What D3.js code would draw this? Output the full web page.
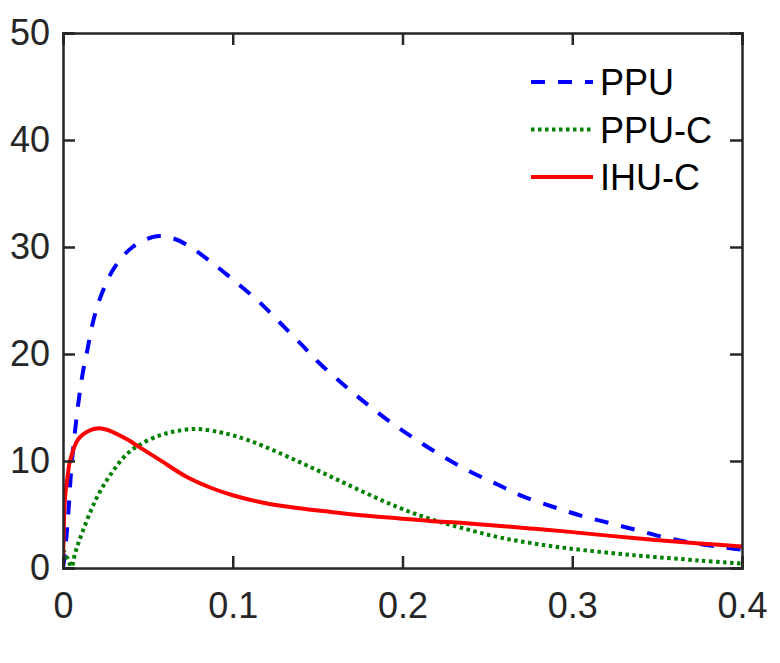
<!DOCTYPE html>
<html>
<head>
  <meta charset="utf-8">
  <title>PPU / PPU-C / IHU-C</title>
  <script src="https://d3js.org/d3.v7.min.js"></script>
  <style>
    body { margin: 0; background: #fff; }
    text { font-family: "Liberation Sans", Arial, Helvetica, sans-serif; }
  </style>
</head>
<body>
<div id="chart"></div>
<script>

const width = 780;
const height = 663;
const margin = {top: 33, right: 38, bottom: 95, left: 63};

// series, [x, y]
const ppu = [[0,0],[0.001,1.2],[0.003,4.8],[0.005,9.5],[0.0087,15.0],[0.0116,18.2],[0.014,20.1],
  [0.018,23.2],[0.023,25.7],[0.030,28.0],[0.041,30.0],[0.055,31.0],[0.065,30.8],[0.075,30.0],
  [0.088,28.5],[0.102,26.7],[0.116,24.8],[0.128,22.9],[0.141,20.8],[0.150,19.3],[0.167,16.9],
  [0.180,15.2],[0.194,13.5],[0.208,12.0],[0.224,10.4],[0.240,9.0],[0.256,7.8],[0.271,6.7],
  [0.289,5.7],[0.305,4.9],[0.322,4.2],[0.339,3.5],[0.356,2.8],[0.373,2.3],[0.391,1.9],[0.4,1.7]];

const ppuC = [[0,1.7],[0.003,0.8],[0.005,0.1],[0.007,1.3],[0.009,2.3],[0.012,3.6],[0.016,5.2],
  [0.020,6.6],[0.025,8.0],[0.031,9.4],[0.038,10.7],[0.045,11.5],[0.057,12.4],[0.067,12.8],
  [0.079,13.0],[0.092,12.7],[0.100,12.4],[0.108,12.0],[0.118,11.4],[0.138,10.0],[0.157,8.6],
  [0.177,7.1],[0.197,5.7],[0.216,4.6],[0.236,3.7],[0.256,2.9],[0.275,2.35],[0.297,1.85],
  [0.336,1.2],[0.375,0.7],[0.4,0.4]];

const ihuC = [[0,0],[0.0003,2.6],[0.0012,6.6],[0.003,8.9],[0.0041,10.0],[0.0088,12.0],[0.015,12.8],
  [0.021,13.05],[0.028,12.8],[0.038,12.0],[0.045,11.3],[0.057,10.1],[0.073,8.5],[0.087,7.5],
  [0.100,6.8],[0.118,6.1],[0.138,5.6],[0.157,5.25],[0.177,4.9],[0.197,4.65],[0.216,4.4],
  [0.236,4.2],[0.256,3.95],[0.275,3.7],[0.297,3.4],[0.336,2.8],[0.375,2.3],[0.4,2.0]];

const xTicks = [0, 0.1, 0.2, 0.3, 0.4];
const yTicks = [0, 10, 20, 30, 40, 50];
const names = ["PPU", "PPU-C", "IHU-C"];

const series = [
  {name: names[0], data: ppu, color: "#0000ff", dash: "14,13"},
  {name: names[1], data: ppuC, color: "#008000", dash: "3.5,3.5"},
  {name: names[2], data: ihuC, color: "#ff0000", dash: null}
];

const svg = d3.select("#chart").append("svg")
    .attr("width", width)
    .attr("height", height);

const x = d3.scaleLinear().domain([0, 0.4]).range([margin.left, width - margin.right]);
const y = d3.scaleLinear().domain([0, 50]).range([height - margin.bottom, margin.top]);

svg.append("clipPath").attr("id", "clip")
  .append("rect")
    .attr("x", x(0)).attr("y", y(50))
    .attr("width", x(0.4) - x(0)).attr("height", y(0) - y(50));

const line = d3.line()
    .x(d => x(d[0]))
    .y(d => y(d[1]))
    .curve(d3.curveCatmullRom.alpha(0.5));

svg.append("g")
    .attr("clip-path", "url(#clip)")
  .selectAll("path")
  .data(series)
  .join("path")
    .attr("fill", "none")
    .attr("stroke", d => d.color)
    .attr("stroke-width", 4)
    .attr("stroke-dasharray", d => d.dash)
    .attr("d", d => line(d.data));

// axes, matlab style: ticks inside, box on all sides
const axisColor = "#262626";
const fmt = d => d === 0 ? "0" : String(d);

const gx = svg.append("g")
    .attr("transform", `translate(0,${y(0)})`)
    .call(d3.axisBottom(x).tickValues(xTicks).tickSize(-12).tickPadding(24).tickFormat(fmt));
const gxTop = svg.append("g")
    .attr("transform", `translate(0,${y(50)})`)
    .call(d3.axisTop(x).tickValues(xTicks).tickSize(-12).tickFormat(""));
const gy = svg.append("g")
    .attr("transform", `translate(${x(0)},0)`)
    .call(d3.axisLeft(y).tickValues(yTicks).tickSize(-12).tickPadding(13).tickFormat(fmt));
const gyRight = svg.append("g")
    .attr("transform", `translate(${x(0.4)},0)`)
    .call(d3.axisRight(y).tickValues(yTicks).tickSize(-12).tickFormat(""));

[gx, gxTop, gy, gyRight].forEach(g => {
  g.select(".domain").attr("stroke", axisColor).attr("stroke-width", 2.5);
  g.selectAll(".tick line").attr("stroke", axisColor).attr("stroke-width", 2.5);
  g.selectAll(".tick text")
    .attr("fill", axisColor)
    .attr("font-size", 36)
    .style("font-family", "'Liberation Sans', Arial, sans-serif");
});

// legend
const legend = svg.append("g");
const rows = legend.selectAll("g")
  .data(series)
  .join("g")
    .attr("transform", (d, i) => `translate(531,${82 + i * 47.5})`);

rows.append("line")
    .attr("x1", 0).attr("x2", 62)
    .attr("stroke", d => d.color)
    .attr("stroke-width", 4)
    .attr("stroke-dasharray", d => d.dash);

rows.append("text")
    .attr("x", 69)
    .attr("y", 13)
    .attr("font-size", 36)
    .attr("fill", "#000")
    .text(d => d.name);

</script>
</body>
</html>
